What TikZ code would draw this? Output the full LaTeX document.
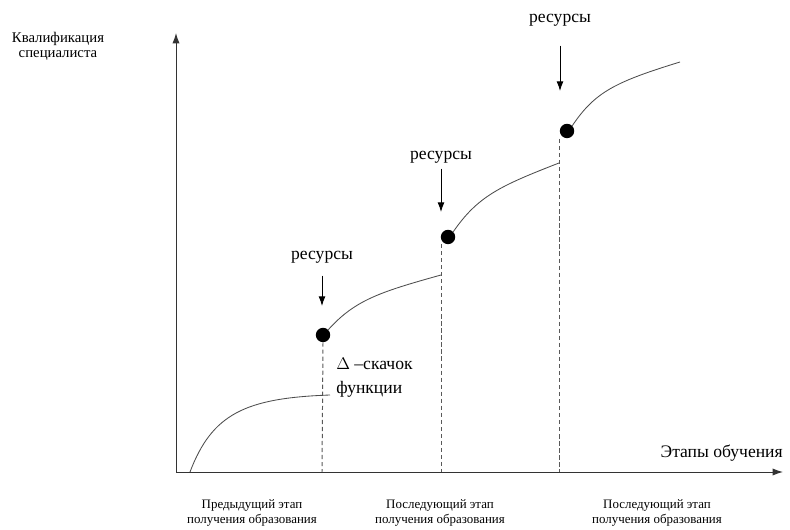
\documentclass[tikz,border=0pt]{standalone}
\usepackage{fontspec}
\setmainfont{Liberation Serif}
\usetikzlibrary{arrows.meta, positioning}

\begin{document}
\begin{tikzpicture}[
    x=0.025cm, y=-0.025cm,
    axis/.style={-{Latex[length=2.6mm, width=1.8mm]}, line width=0.7pt, black!80},
    curve/.style={line width=0.6pt, black!70},
    jump/.style={line width=0.7pt, black!65, dash pattern=on 3pt off 2pt},
    dot/.style={circle, fill=black, inner sep=0pt, minimum size=0.36cm},
    resarrow/.style={-{Latex[length=2.4mm, width=1.7mm]}, line width=0.6pt},
    restext/.style={font=\fontsize{12.5}{14}\selectfont, inner sep=1pt},
    stagetext/.style={font=\fontsize{9.2}{11}\selectfont, align=center, inner sep=0pt},
    axistext/.style={font=\fontsize{10.5}{10.5}\selectfont, align=center, inner sep=0pt}
]
\useasboundingbox (0,0) rectangle (790,530);

% --- Axes ---
\coordinate (origin) at (176,472);
\coordinate (ytip) at (176,33);
\coordinate (xtip) at (783,472);
\draw [axis] (origin) -- (ytip);
\draw [axis] (origin) -- (xtip);

\node (ylabel) [axistext] at (58,46) {Квалификация\\специалиста};
\node (xlabel) [restext, anchor=south east, inner sep=0pt] at (783,462) {Этапы обучения};

% --- Jump points ---
\node (dot1) [dot] at (323,335) {};
\node (dot2) [dot] at (448,237) {};
\node (dot3) [dot] at (567,131) {};

% dashed lines down to the axis
\coordinate (top2) at (441,244);
\coordinate (top3) at (559,139);
\coordinate (foot1) at (322,472);
\coordinate (foot2) at (441,472);
\coordinate (foot3) at (559,472);
\draw [jump] (dot1.south) -- (foot1);
\draw [jump] (top2) -- (foot2);
\draw [jump] (top3) -- (foot3);

% --- Curves ---
\draw [curve] (190,472) .. controls (212,414) and (245,398) .. (330,395);
\draw [curve] (dot1.north east) .. controls (355,300) and (380,292) .. (441,275);
\draw [curve] (dot2.north east) .. controls (478,196) and (500,186) .. (559,163);
\draw [curve] (dot3.north east) .. controls (595,92) and (615,82) .. (680,62);

% --- Resources ---
\node (res1) [restext] at (322,257) {ресурсы};
\node (res2) [restext] at (441,157) {ресурсы};
\node (res3) [restext] at (560,20) {ресурсы};
\coordinate (tip1) at (322,306);
\coordinate (tip2) at (441,212);
\coordinate (tip3) at (560,91);
\draw [resarrow] (res1.south) ++(0,11) -- (tip1);
\draw [resarrow] (res2.south) ++(0,4) -- (tip2);
\draw [resarrow] (res3.south) ++(0,18) -- (tip3);

% jump label
\node (jumplabel) [restext, anchor=north west, align=left, inner sep=0pt,
    font=\fontsize{12.5}{17}\selectfont] at (336,358) {$\Delta$ –скачок\\функции};

% --- Stages ---
\node (stage1) [stagetext] at (252,513) {Предыдущий этап\\получения образования};
\node (stage2) [stagetext] at (440,513) {Последующий этап\\получения образования};
\node (stage3) [stagetext] at (657,513) {Последующий этап\\получения образования};

\end{tikzpicture}
\end{document}
